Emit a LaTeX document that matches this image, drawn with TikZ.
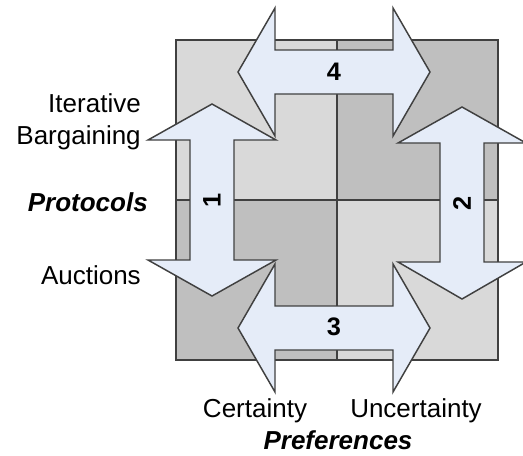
\documentclass[tikz,border=0pt]{standalone}
\usepackage{fontspec}
\setmainfont{Liberation Sans}
\definecolor{qlight}{RGB}{217,217,217}
\definecolor{qdark}{RGB}{191,191,191}
\definecolor{arrowblue}{RGB}{229,236,248}
\definecolor{edgegray}{RGB}{64,64,64}
\tikzset{
  bigarrow/.style={fill=arrowblue, draw=edgegray, line width=1.1pt, line join=miter},
  numlabel/.style={font=\bfseries\fontsize{19}{23}\selectfont, inner sep=0pt},
  sidelabel/.style={font=\fontsize{19.5}{24}\selectfont, inner sep=0pt},
  titlelabel/.style={font=\bfseries\itshape\fontsize{19.5}{24}\selectfont, inner sep=0pt}
}
\begin{document}
\begin{tikzpicture}[x=0.75pt,y=-0.75pt]
\clip (0,0) rectangle (523,455);
\fill[qlight] (176,40) rectangle (337,200);
\fill[qdark] (337,40) rectangle (498,200);
\fill[qdark] (176,200) rectangle (337,360);
\fill[qlight] (337,200) rectangle (498,360);
\draw[edgegray, line width=1pt] (337,40) -- (337,360);
\draw[edgegray, line width=1pt] (176,200) -- (498,200);
\draw[edgegray, line width=1.5pt] (176,40) rectangle (498,360);
\draw[bigarrow] (238,72) -- (275,8) -- (275,50) -- (393,50) -- (393,8) -- (430,72)
        -- (393,136) -- (393,94) -- (275,94) -- (275,136) -- cycle;
\draw[bigarrow] (238,328) -- (275,264) -- (275,306) -- (393,306) -- (393,264) -- (430,328)
        -- (393,392) -- (393,350) -- (275,350) -- (275,392) -- cycle;
\draw[bigarrow] (212,104) -- (276,140) -- (234,140) -- (234,260) -- (276,260) -- (212,296)
        -- (148,260) -- (190,260) -- (190,140) -- (148,140) -- cycle;
\draw[bigarrow] (462,107) -- (526,143) -- (484,143) -- (484,262) -- (526,262) -- (462,299)
        -- (398,262) -- (440,262) -- (440,143) -- (398,143) -- cycle;
\draw (334,72) node (four) [numlabel] {4};
\draw (334,327) node (three) [numlabel] {3};
\draw (212,200) node (one) [numlabel, rotate=90] {1};
\draw (462,203) node (two) [numlabel, rotate=90] {2};
\draw (141,122) node (iterative) [sidelabel, anchor=east, align=right] {Iterative\\Bargaining};
\draw (148,202) node (protocols) [titlelabel, anchor=east] {Protocols};
\draw (141,275) node (auctions) [sidelabel, anchor=east] {Auctions};
\draw (255,411) node (certainty) [sidelabel] {Certainty};
\draw (416,411) node (uncertainty) [sidelabel] {Uncertainty};
\draw (338,440) node (preferences) [titlelabel] {Preferences};
\end{tikzpicture}
\end{document}
